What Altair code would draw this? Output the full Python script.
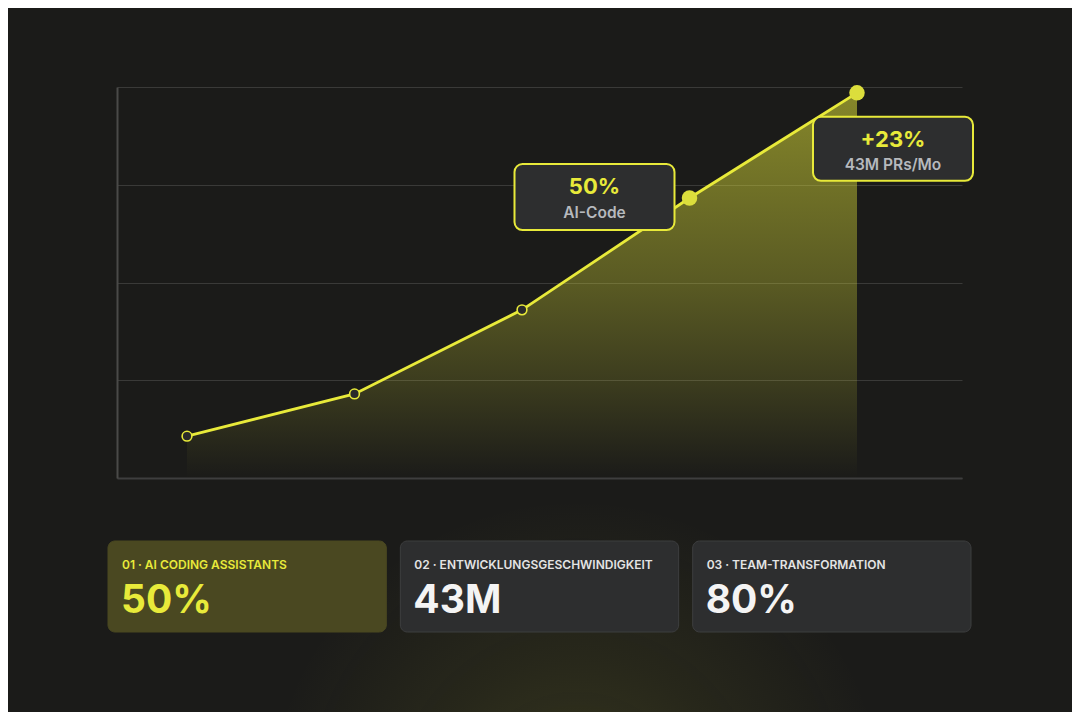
import altair as alt
import pandas as pd

# ---- data ----
periods = ["P1", "P2", "P3", "P4", "P5"]
values = [10.7, 21.5, 43.0, 71.6, 98.5]
highlight = [False, False, False, True, True]

ann_period = ["P4", "P5"]
ann_value = [71.6, 98.5]
ann_title = ["50%", "+23%"]
ann_sub = ["AI-Code", "43M PRs/Mo"]

card_ids = ["01", "02", "03"]
card_labels = ["01 · AI CODING ASSISTANTS", "02 · ENTWICKLUNGSGESCHWINDIGKEIT", "03 · TEAM-TRANSFORMATION"]
card_values = ["50%", "43M", "80%"]
card_active = [True, False, False]

grid_values = [0, 25, 50, 75, 100]

# ---- styles ----
YEL = "#E8EA3A"
FONT = "Inter"
BG = "#1b1b19"

df = pd.DataFrame({"period": periods, "value": values, "hl": highlight})
ann_df = pd.DataFrame({"period": ann_period, "value": ann_value, "title": ann_title, "sub": ann_sub})
card_df = pd.DataFrame({"card": card_ids, "label": card_labels, "val": card_values, "active": card_active})

xs = alt.Scale(type="point", domain=periods, padding=0.5224, align=0.4)
ys = alt.Scale(domain=[0, 100], nice=False, zero=True)

y_axis = alt.Axis(
    title=None, labels=False, ticks=False, values=grid_values,
    grid=True, gridColor="#3a3a38", gridWidth=1,
    domain=True, domainColor="#4a4a48", domainWidth=2,
)
X = alt.X("period:O", scale=xs, axis=None)
Y = alt.Y("value:Q", scale=ys, axis=y_axis)

# background glow (decorative)
glow = alt.Chart(pd.DataFrame({"k": [0]})).mark_rect(
    color=alt.RadialGradient(
        gradient="radial",
        stops=[
            alt.GradientStop(color="rgba(200,200,50,0.16)", offset=0),
            alt.GradientStop(color="rgba(200,200,50,0.07)", offset=0.5),
            alt.GradientStop(color="rgba(200,200,50,0.0)", offset=1),
        ],
        x1=0.5, y1=1, r1=0, x2=0.5, y2=1, r2=0.5,
    )
).encode(x=alt.value(150), x2=alt.value(770), y=alt.value(200), y2=alt.value(625))

area = alt.Chart(df).mark_area(
    color=alt.Gradient(
        gradient="linear",
        stops=[
            alt.GradientStop(color="rgba(232,234,58,0.52)", offset=0),
            alt.GradientStop(color="rgba(232,234,58,0.30)", offset=0.5),
            alt.GradientStop(color="rgba(232,234,58,0.16)", offset=0.75),
            alt.GradientStop(color="rgba(232,234,58,0.0)", offset=1),
        ],
        x1=1, x2=1, y1=0, y2=1,
    ),
    interpolate="linear",
).encode(
    x=alt.X("period:O", scale=xs, axis=alt.Axis(
        title=None, labels=False, ticks=False, grid=False,
        domain=True, domainColor="#3e3e3e", domainWidth=2)),
    y=Y,
)

line = alt.Chart(df).mark_line(color=YEL, strokeWidth=2.8).encode(x=X, y=Y)

open_pts = alt.Chart(df).transform_filter("!datum.hl").mark_point(
    shape="circle", filled=False, fill="#2a2a2a", fillOpacity=1,
    stroke=YEL, strokeWidth=1.6, size=95, opacity=1,
).encode(x=X, y=Y)

full_pts = alt.Chart(df).transform_filter("datum.hl").mark_circle(
    color="#DCDE3C", size=240, opacity=1
).encode(x=X, y=Y)

layers = [glow, area, line, open_pts, full_pts]

# annotation boxes: offsets per annotation (style)
box_offsets = [
    dict(x0=-175, x1=-15, y0=-34, y1=32, dx=-95, dy1=-11, dy2=15),
    dict(x0=-44, x1=116, y0=24, y1=88, dx=36, dy1=47, dy2=72),
]
for i, off in enumerate(box_offsets):
    sub = alt.Chart(ann_df).transform_filter(f"datum.period == '{ann_period[i]}'")
    box = sub.mark_rect(
        fill="#2d2e2f", stroke=YEL, strokeWidth=2, cornerRadius=8,
        xOffset=off["x0"], x2Offset=off["x1"], yOffset=off["y0"], y2Offset=off["y1"],
    ).encode(x=X, x2=alt.X2("period"), y=Y, y2=alt.Y2("value"))
    t1 = sub.mark_text(
        font=FONT, fontSize=22, fontWeight=700, color=YEL,
        dx=off["dx"], dy=off["dy1"], baseline="middle", align="center",
    ).encode(x=X, y=Y, text="title:N")
    t2 = sub.mark_text(
        font=FONT, fontSize=15.5, fontWeight=600, color="#b6b9bd",
        dx=off["dx"], dy=off["dy2"], baseline="middle", align="center",
    ).encode(x=X, y=Y, text="sub:N")
    layers += [box, t1, t2]

# cards
cs = alt.Scale(type="band", domain=card_ids, range=[-9, 854], paddingInner=0.048, paddingOuter=0)
cards_base = alt.Chart(card_df)
cards = cards_base.mark_rect(cornerRadius=7, strokeWidth=1).encode(
    x=alt.X("card:N", scale=cs, axis=None),
    y=alt.value(454), y2=alt.value(545),
    fill=alt.condition("datum.active", alt.value("#4a4821"), alt.value("#2d2e2f")),
    stroke=alt.condition("datum.active", alt.value("#4a4821"), alt.value("#3d3e3f")),
)
card_lbl = cards_base.mark_text(
    font=FONT, fontSize=12, fontWeight=600, align="left", baseline="alphabetic", dx=14,
).encode(
    x=alt.X("card:N", scale=cs, axis=None, bandPosition=0),
    y=alt.value(481.5),
    text="label:N",
    color=alt.condition("datum.active", alt.value(YEL), alt.value("#e4e4e4")),
)
card_val = cards_base.mark_text(
    font=FONT, fontSize=39, fontWeight=700, align="left", baseline="alphabetic", dx=13,
).encode(
    x=alt.X("card:N", scale=cs, axis=None, bandPosition=0),
    y=alt.value(526),
    text="val:N",
    color=alt.condition("datum.active", alt.value(YEL), alt.value("#f4f4f4")),
)
layers += [cards, card_lbl, card_val]

chart = alt.layer(*layers).resolve_scale(x="independent").properties(
    width=845, height=391,
    padding={"left": 109, "top": 79, "right": 110, "bottom": 234},
    autosize=alt.AutoSizeParams(type="none"),
    background=BG,
).configure_view(stroke=None)

chart.save("out.html", embed_options={"renderer": "svg", "actions": False})
